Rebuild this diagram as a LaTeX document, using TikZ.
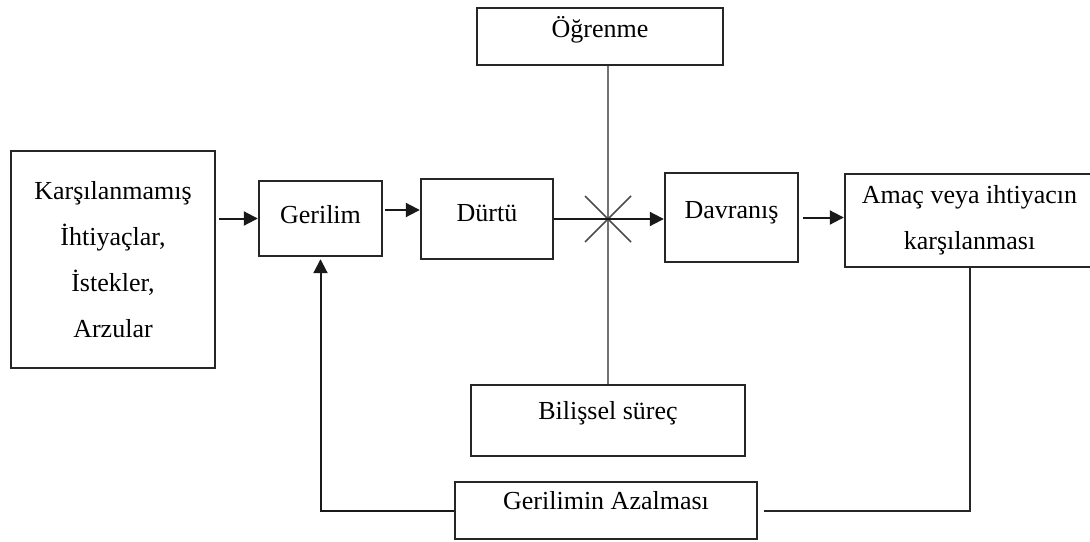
\documentclass[tikz,border=0pt]{standalone}
\usepackage{fontspec}
\setmainfont{Liberation Serif}
\usepackage{tikz}
\usetikzlibrary{arrows.meta}

\tikzset{
  box/.style={draw=black!85, line width=2.4pt, inner sep=0pt, align=center,
    font=\fontsize{26}{46}\selectfont},
  raised/.style={text height=18pt, text depth=#1},
  arr/.style={draw=black!90, line width=2pt, -{Triangle[length=14pt,width=14pt]}},
  conn/.style={draw=black!85, line width=2pt},
  vline/.style={draw=black!55, line width=2pt},
  xline/.style={draw=black!70, line width=1.6pt},
}

\begin{document}
\begin{tikzpicture}[x=1pt, y=-1pt]
\useasboundingbox (0,0) rectangle (1090,541);
% Nodes
\node[box, minimum width=204pt, minimum height=217pt] (kars) at (113,259.5)
  {Karşılanmamış\\İhtiyaçlar,\\İstekler,\\Arzular};
\node[box, raised=8pt, minimum width=123pt, minimum height=75pt] (ger) at (320.5,218.5) {Gerilim};
\node[box, raised=14pt, minimum width=132pt, minimum height=80pt] (dur) at (487,219) {Dürtü};
\node[box, raised=16pt, minimum width=133pt, minimum height=89pt] (dav) at (731.5,217.5) {Davranış};
\node[box, minimum width=249pt, minimum height=93pt] (amac) at (969.5,220.5)
  {Amaç veya ihtiyacın\\karşılanması};
\node[box, raised=17pt, minimum width=246pt, minimum height=57pt] (ogr) at (600,36.5) {Öğrenme};
\node[box, raised=20pt, minimum width=274pt, minimum height=71pt] (bil) at (608,420.5) {Bilişsel süreç};
\node[box, raised=20pt, minimum width=302pt, minimum height=57pt] (azal) at (606,510.5) {Gerilimin Azalması};
\coordinate (cross) at (bil.north |- dur.east);
% Lines
\draw[vline] (bil.north) -- (bil.north |- ogr.south);
\draw[xline] ([shift={(-23,-23)}]cross) -- ([shift={(23,23)}]cross);
\draw[xline] ([shift={(23,-23)}]cross) -- ([shift={(-23,23)}]cross);
\draw[arr, shorten <=3pt] (ger.west -| kars.east) -- (ger.west);
\draw[arr, shorten <=2pt] ([yshift=8.5pt]ger.east) -- ([yshift=8.5pt]ger.east -| dur.west);
\draw[arr] (dur.east) -- (dur.east -| dav.west);
\draw[arr, shorten <=4pt] (dav.east) -- (dav.east -| amac.west);
\draw[arr, shorten >=2pt] (azal.west) -| (ger.south);
\draw[conn, shorten >=6pt] (amac.south) |- (azal.east);
\end{tikzpicture}
\end{document}
